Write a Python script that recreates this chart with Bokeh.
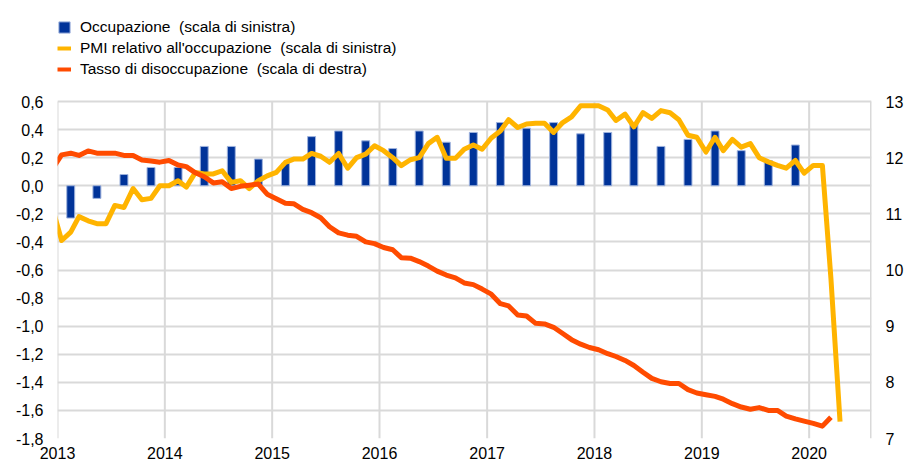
from datetime import datetime
import pandas as pd
from bokeh.plotting import figure
from bokeh.models import (Range1d, LinearAxis, FixedTicker, CustomJSTickFormatter,
                          Legend, LegendItem)
from bokeh.embed import file_html
from bokeh.resources import INLINE

# ---------------- data ----------------
# PMI relativo all'occupazione (monthly, Dec 2012 - Apr 2020), left scale
pmi_first_month = "2012-12-01"
pmi_values = [
    -0.16,
    -0.39, -0.33, -0.22, -0.25, -0.27, -0.27, -0.14, -0.155, -0.02, -0.10, -0.09, 0.00,
    0.00, 0.036, -0.01, 0.095, 0.084, 0.084, 0.107, 0.024, 0.036, -0.02, 0.036, 0.07,
    0.095, 0.167, 0.19, 0.19, 0.23, 0.21, 0.167, 0.23, 0.125, 0.20, 0.225, 0.285,
    0.25, 0.20, 0.143, 0.185, 0.20, 0.30, 0.345, 0.195, 0.195, 0.26, 0.29, 0.26,
    0.34, 0.39, 0.47, 0.415, 0.44, 0.445, 0.445, 0.38, 0.45, 0.49, 0.57, 0.57,
    0.57, 0.54, 0.465, 0.51, 0.42, 0.52, 0.48, 0.535, 0.52, 0.47, 0.36, 0.345,
    0.24, 0.345, 0.25, 0.33, 0.275, 0.30, 0.20, 0.17, 0.145, 0.125, 0.18, 0.09,
    0.145, 0.145, -0.66, -1.68,
]

# Tasso di disoccupazione (monthly, Dec 2012 - Mar 2020), right scale
unemp_first_month = "2012-12-01"
unemp_values = [
    11.80,
    12.05, 12.08, 12.04, 12.12, 12.08, 12.08, 12.08, 12.04, 12.04, 11.96, 11.94, 11.92,
    11.95, 11.87, 11.84, 11.73, 11.66, 11.55, 11.57, 11.45, 11.49, 11.51, 11.53, 11.35,
    11.27, 11.19, 11.18, 11.08, 11.02, 10.93, 10.77, 10.66, 10.62, 10.60, 10.50, 10.47,
    10.40, 10.36, 10.22, 10.21, 10.15, 10.07, 9.98, 9.91, 9.86, 9.77, 9.74, 9.66,
    9.57, 9.40, 9.36, 9.20, 9.18, 9.05, 9.04, 8.98, 8.87, 8.76, 8.68, 8.62,
    8.58, 8.51, 8.46, 8.39, 8.30, 8.18, 8.07, 8.01, 7.98, 7.98, 7.87, 7.81,
    7.78, 7.75, 7.70, 7.62, 7.56, 7.52, 7.55, 7.50, 7.50, 7.40, 7.35, 7.31,
    7.27, 7.22, 7.38,
]

# Occupazione (quarterly, 2013Q1 - 2019Q4), left scale
employment_first_quarter = "2013-02-01"
employment_values = [
    -0.23, -0.09, 0.08, 0.13,
    0.13, 0.28, 0.28, 0.19,
    0.16, 0.35, 0.39, 0.32,
    0.265, 0.39, 0.31, 0.38,
    0.45, 0.41, 0.45, 0.37,
    0.38, 0.44, 0.28, 0.33,
    0.39, 0.25, 0.18, 0.29,
]

years = [2013, 2014, 2015, 2016, 2017, 2018, 2019, 2020]
left_ticks = [0.6, 0.4, 0.2, 0.0, -0.2, -0.4, -0.6, -0.8, -1.0, -1.2, -1.4, -1.6, -1.8]
right_ticks = [7, 8, 9, 10, 11, 12, 13]

labels = ["Occupazione  (scala di sinistra)",
          "PMI relativo all'occupazione  (scala di sinistra)",
          "Tasso di disoccupazione  (scala di destra)"]

# ---------------- layout constants ----------------
W, H = 906, 465
FRAME_LEFT, FRAME_RIGHT = 57, 871
AXES_TOP, FRAME_BOTTOM = 101, 438        # where the 0.6 / 13 gridline and -1.8 / 7 line sit
LEFT_MIN, LEFT_MAX = -1.8, 0.6
RIGHT_MIN, RIGHT_MAX = 7.0, 13.0
X_START, X_END = datetime(2013, 1, 1), datetime(2020, 7, 31)

# the frame reaches the top of the picture so that the legend (drawn inside it) is not clipped
axes_px = FRAME_BOTTOM - AXES_TOP
left_top = LEFT_MAX + (LEFT_MAX - LEFT_MIN) * AXES_TOP / axes_px
right_top = RIGHT_MAX + (RIGHT_MAX - RIGHT_MIN) * AXES_TOP / axes_px

# ---------------- derived x positions (mid-month / mid-quarter) ----------------
half_month = pd.Timedelta(days=14)
pmi_dates = pd.date_range(pmi_first_month, periods=len(pmi_values), freq="MS") + half_month
unemp_dates = pd.date_range(unemp_first_month, periods=len(unemp_values), freq="MS") + half_month
emp_dates = pd.date_range(employment_first_quarter, periods=len(employment_values), freq="3MS") + half_month
year_dates = [datetime(y, 1, 1) for y in years]


def ms(d):
    return (d - datetime(1970, 1, 1)).total_seconds() * 1000.0


year_ticks_ms = [ms(d) for d in year_dates]

BLUE = "#003399"
YELLOW = "#FFB400"
ORANGE = "#FF4B00"
GRID = "#d9d9d9"
FONT = "Liberation Sans"

p = figure(width=W, height=H, x_axis_type="datetime",
           x_range=Range1d(X_START, X_END),
           y_range=Range1d(LEFT_MIN, left_top),
           output_backend="svg", toolbar_location=None,
           min_border_left=FRAME_LEFT, min_border_right=W - FRAME_RIGHT,
           min_border_top=0, min_border_bottom=H - FRAME_BOTTOM)
p.extra_y_ranges = {"right": Range1d(RIGHT_MIN, right_top)}

p.outline_line_color = None
p.background_fill_color = "white"
p.border_fill_color = "white"

# vertical grid lines (year starts) and right border, limited to the axes box
n_years = len(year_dates)
p.segment(x0=year_dates, x1=year_dates, y0=[LEFT_MIN] * n_years, y1=[LEFT_MAX] * n_years,
          line_color=GRID, line_width=2)
p.segment(x0=[X_END], x1=[X_END], y0=[LEFT_MIN], y1=[LEFT_MAX], line_color=GRID, line_width=3)

# bars
bars = p.vbar(x=emp_dates, top=employment_values, bottom=0,
              width=27 * 86400000, fill_color=BLUE, line_color="#9fb3dd", line_width=1)
# lines
p.line(x=pmi_dates, y=pmi_values, line_color=YELLOW, line_width=5, line_join="round")
p.line(x=unemp_dates, y=unemp_values, line_color=ORANGE, line_width=5, line_join="round",
       y_range_name="right")

# legend dummies (draw nothing in the plot)
nan = float("nan")
leg_y = p.line(x=[nan], y=[nan], line_color=YELLOW, line_width=4)
leg_o = p.line(x=[nan], y=[nan], line_color=ORANGE, line_width=4)

# axes
right_axis = LinearAxis(y_range_name="right")
p.add_layout(right_axis, "right")

for ax in [p.xaxis[0], p.yaxis[0], right_axis]:
    ax.axis_line_color = None
    ax.major_tick_line_color = None
    ax.minor_tick_line_color = None
    ax.major_tick_out = 0
    ax.major_tick_in = 0
    ax.minor_tick_out = 0
    ax.minor_tick_in = 0
    ax.major_label_text_font = FONT
    ax.major_label_text_font_size = "16px"
    ax.major_label_text_color = "#000000"

p.xaxis[0].ticker = FixedTicker(ticks=year_ticks_ms)
p.xaxis[0].formatter = CustomJSTickFormatter(code="return new Date(tick).getUTCFullYear().toString();")
p.xaxis[0].major_label_standoff = 8

p.yaxis[0].ticker = FixedTicker(ticks=left_ticks)
p.yaxis[0].formatter = CustomJSTickFormatter(code="return tick.toFixed(1).replace('.', ',');")
p.yaxis[0].major_label_standoff = 14

right_axis.ticker = FixedTicker(ticks=right_ticks)
right_axis.formatter = CustomJSTickFormatter(code="return tick.toFixed(0);")
right_axis.major_label_standoff = 14

# grids
p.xgrid.grid_line_color = None
p.ygrid.ticker = FixedTicker(ticks=left_ticks)
p.ygrid.grid_line_color = GRID
p.ygrid.grid_line_width = 2

legend_height = 3 * 20 + 2 * 3
legend = Legend(items=[LegendItem(label=labels[0], renderers=[bars]),
                       LegendItem(label=labels[1], renderers=[leg_y]),
                       LegendItem(label=labels[2], renderers=[leg_o])],
                location=(0, FRAME_BOTTOM - 12 - legend_height), orientation="vertical",
                glyph_width=14, glyph_height=14, label_standoff=9,
                label_text_font=FONT, label_text_font_size="15.5px", label_text_color="#000000",
                spacing=3, padding=0, margin=0,
                border_line_color=None, background_fill_alpha=0)
p.add_layout(legend)

open("out.html", "w").write(file_html(p, INLINE))
